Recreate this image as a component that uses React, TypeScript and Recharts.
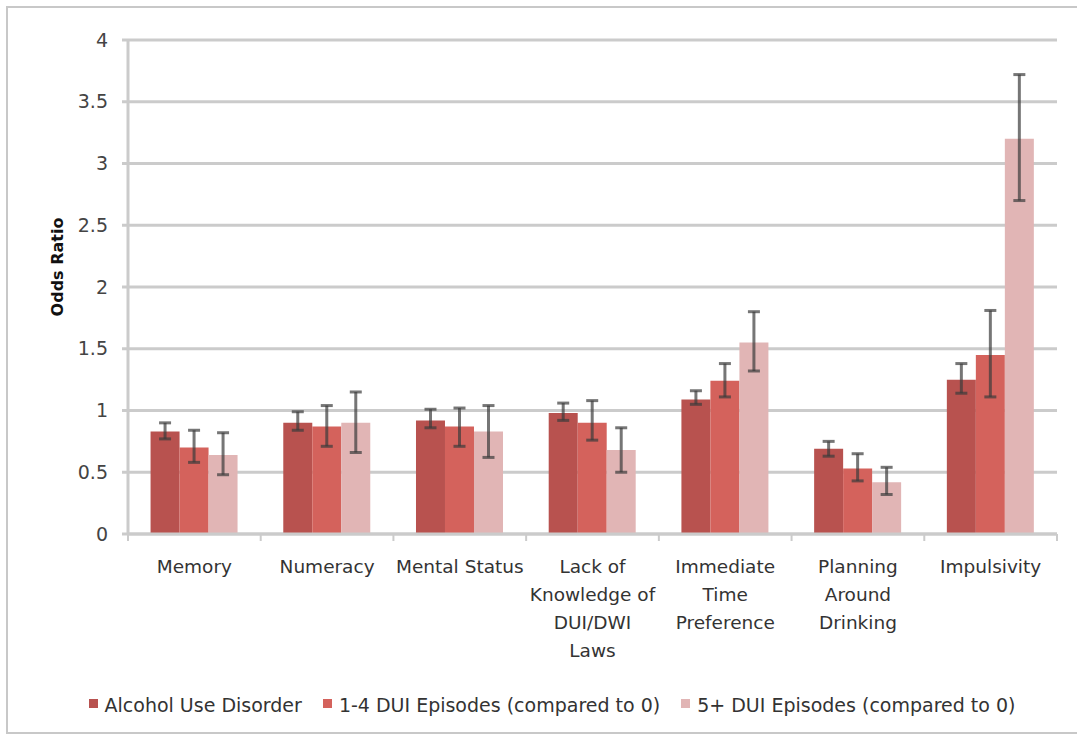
import React from "react";
import { BarChart, Bar, XAxis, YAxis, CartesianGrid, ErrorBar, Legend } from "recharts";

const categories = [
  "Memory",
  "Numeracy",
  "Mental Status",
  "Lack of\nKnowledge of\nDUI/DWI\nLaws",
  "Immediate\nTime\nPreference",
  "Planning\nAround\nDrinking",
  "Impulsivity",
];

const aud = [0.83, 0.9, 0.92, 0.98, 1.09, 0.69, 1.25];
const audLow = [0.77, 0.84, 0.86, 0.92, 1.05, 0.63, 1.14];
const audHigh = [0.9, 0.99, 1.01, 1.06, 1.16, 0.75, 1.38];

const dui14 = [0.7, 0.87, 0.87, 0.9, 1.24, 0.53, 1.45];
const dui14Low = [0.58, 0.71, 0.71, 0.76, 1.11, 0.43, 1.11];
const dui14High = [0.84, 1.04, 1.02, 1.08, 1.38, 0.65, 1.81];

const dui5 = [0.64, 0.9, 0.83, 0.68, 1.55, 0.42, 3.2];
const dui5Low = [0.48, 0.66, 0.62, 0.5, 1.32, 0.32, 2.7];
const dui5High = [0.82, 1.15, 1.04, 0.86, 1.8, 0.54, 3.72];

const yTicks = [0, 0.5, 1, 1.5, 2, 2.5, 3, 3.5, 4];

const SERIES = [
  { key: "aud", label: "Alcohol Use Disorder", color: "#B8524F" },
  { key: "dui14", label: "1-4 DUI Episodes (compared to 0)", color: "#D4625C" },
  { key: "dui5", label: "5+ DUI Episodes (compared to 0)", color: "#E1B5B5" },
];

// ErrorBar wants [minus, plus] deltas around the bar value
const data = categories.map((name, i) => ({
  name,
  aud: aud[i],
  audErr: [aud[i] - audLow[i], audHigh[i] - aud[i]],
  dui14: dui14[i],
  dui14Err: [dui14[i] - dui14Low[i], dui14High[i] - dui14[i]],
  dui5: dui5[i],
  dui5Err: [dui5[i] - dui5Low[i], dui5High[i] - dui5[i]],
}));

const FONT = "'DejaVu Sans', sans-serif";
const GRID = "#cbcbcb";

// category label + Excel-style tick marks on the category boundaries
function CategoryTick({ x, y, payload, index }: any) {
  const lines = String(payload.value).split("\n");
  const half = payload.offset || 0;
  return (
    <g>
      <line x1={x - half} x2={x - half} y1={y} y2={y + 7} stroke={GRID} strokeWidth={2} />
      {index === categories.length - 1 && (
        <line x1={x + half} x2={x + half} y1={y} y2={y + 7} stroke={GRID} strokeWidth={2} />
      )}
      <text x={x} y={y} textAnchor="middle" fontFamily={FONT} fontSize={18.5} fill="#333">
        {lines.map((l, i) => (
          <tspan key={i} x={x} dy={i === 0 ? 39 : 28}>
            {l}
          </tspan>
        ))}
      </text>
    </g>
  );
}

function YLabel({ viewBox }: any) {
  const cx = viewBox.x + 10;
  const cy = viewBox.y + viewBox.height / 2 - 20;
  return (
    <text
      x={cx}
      y={cy}
      transform={`rotate(-90 ${cx} ${cy})`}
      textAnchor="middle"
      dominantBaseline="central"
      fontFamily={FONT}
      fontWeight="bold"
      fontSize={16}
      fill="#111"
    >
      Odds Ratio
    </text>
  );
}

function LegendContent() {
  return (
    <div style={{ display: "flex", justifyContent: "center", alignItems: "center", height: 30, gap: 21 }}>
      {SERIES.map((s) => (
        <div key={s.key} style={{ display: "flex", alignItems: "center", gap: 7 }}>
          <span style={{ width: 9, height: 9, background: s.color, display: "inline-block", marginTop: -4 }} />
          <span style={{ fontFamily: FONT, fontSize: 19, color: "#333" }}>{s.label}</span>
        </div>
      ))}
    </div>
  );
}

export default function App() {
  return (
    <div
      style={{
        position: "absolute",
        left: 6,
        top: 6,
        width: 1071,
        height: 728,
        borderTop: "2px solid #c8c8c8",
        borderLeft: "2px solid #c8c8c8",
        borderBottom: "2px solid #c8c8c8",
        boxSizing: "border-box",
        background: "#fff",
        overflow: "hidden",
      }}
    >
      <BarChart
        width={1072}
        height={724}
        data={data}
        margin={{ top: 32, right: 23, bottom: 12, left: 39 }}
        barCategoryGap="17%"
        barGap={0}
      >
        <CartesianGrid horizontal vertical={false} stroke={GRID} strokeWidth={3} />
        <XAxis
          dataKey="name"
          height={156}
          interval={0}
          axisLine={{ stroke: GRID, strokeWidth: 3 }}
          tickLine={false}
          tickSize={0}
          tickMargin={0}
          tick={<CategoryTick />}
        />
        <YAxis
          width={81}
          domain={[0, 4]}
          ticks={yTicks}
          axisLine={{ stroke: GRID, strokeWidth: 3 }}
          tickLine={{ stroke: GRID, strokeWidth: 3 }}
          tickSize={6}
          tickMargin={14}
          tick={{ fontFamily: FONT, fontSize: 19, fill: "#444" }}
          label={<YLabel />}
        />
        <Legend verticalAlign="bottom" height={30} content={<LegendContent />} />
        {SERIES.map((s) => (
          <Bar key={s.key} dataKey={s.key} name={s.label} fill={s.color} isAnimationActive={false}>
            <ErrorBar
              dataKey={`${s.key}Err`}
              width={6}
              stroke="#3c3c3c"
              strokeOpacity={0.7}
              strokeWidth={3}
              isAnimationActive={false}
            />
          </Bar>
        ))}
      </BarChart>
    </div>
  );
}
